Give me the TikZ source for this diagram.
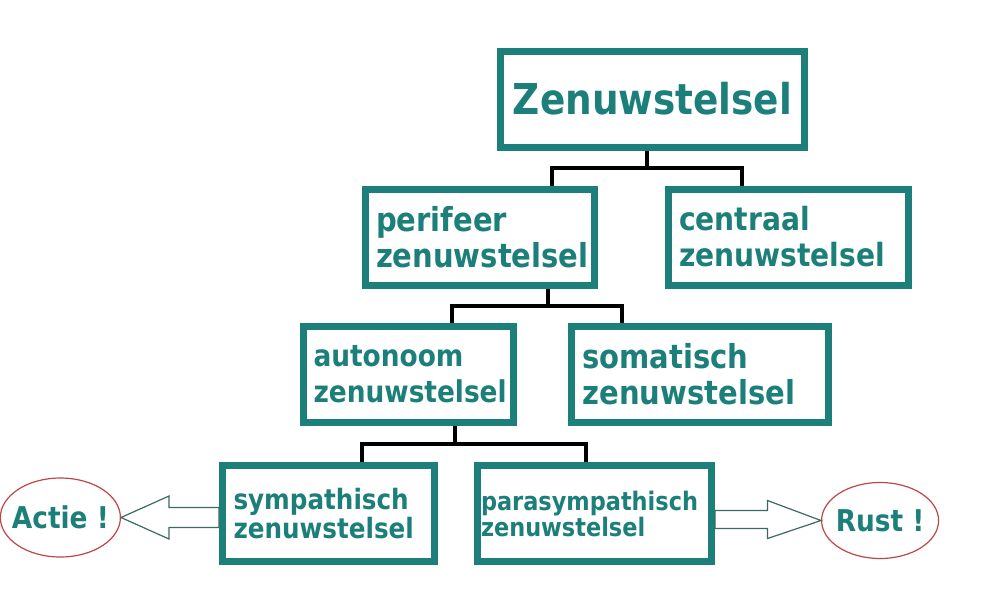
\documentclass[tikz,border=0pt]{standalone}
\usepackage{fontspec}
\setmainfont{DejaVu Sans}[FakeStretch=0.88]
\usetikzlibrary{positioning, shapes.geometric}

\definecolor{nervteal}{RGB}{28,127,122}
\definecolor{moodred}{RGB}{190,70,70}
\definecolor{arrowgrey}{RGB}{60,105,100}

\begin{document}
\begin{tikzpicture}[x=1pt, y=-1pt,
	sysbox/.style={draw=nervteal, line width=7pt, fill=white, text=nervteal,
		align=left, inner xsep=11pt, minimum height=96pt},
	link/.style={line width=4pt, black},
	mood/.style={ellipse, draw=moodred, line width=1.2pt, text=nervteal, inner xsep=-6pt, inner ysep=0pt,
		font=\bfseries\fontsize{30}{34}\selectfont},
	hollow/.style={draw=arrowgrey, line width=1.2pt, fill=white, line join=miter}]
	\useasboundingbox (0,0) rectangle (984,590);

	\node[sysbox, minimum width=304pt, align=center, font=\bfseries\fontsize{42.5}{44}\selectfont] (zen) at (652.5,99) {Zenuwstelsel};
	\node[sysbox, below left=35pt and 55pt of zen.south, text width=207pt, font=\bfseries\fontsize{33}{36}\selectfont] (peri) {perifeer\\zenuwstelsel};
	\node[sysbox, below right=35pt and 12pt of zen.south, text width=218pt, font=\bfseries\fontsize{32}{36}\selectfont] (cent) {centraal\\zenuwstelsel};
	\node[sysbox, below left=34pt and -37.5pt of peri.south, text width=190pt, inner xsep=10pt, font=\bfseries\fontsize{30}{36}\selectfont] (auto) {autonoom\\zenuwstelsel};
	\node[sysbox, below right=34pt and 88.5pt of peri.south, text width=235pt, font=\bfseries\fontsize{33}{36}\selectfont] (soma) {somatisch\\zenuwstelsel};
	\node[sysbox, below left=36.5pt and -29.5pt of auto.south, text width=190pt, font=\bfseries\fontsize{28}{29}\selectfont] (symp) {sympathisch\\zenuwstelsel};
	\node[sysbox, below right=36.5pt and 65.5pt of auto.south, text width=227pt, inner xsep=3.5pt, font=\bfseries\fontsize{25.5}{26}\selectfont] (para) {parasympathisch\\zenuwstelsel};

	\node[mood, left=98pt of symp, yshift=-4pt, minimum width=114pt, minimum height=79pt] (actie) {Actie !};
	\node[mood, right=106pt of para, yshift=-7pt, minimum width=117pt, minimum height=76pt] (rust) {Rust !};

	% tree
	\draw[link] ([xshift=-6pt]zen.south) -- ++(0,17) coordinate (j1) -| ([xshift=72pt]peri.north)
		(j1) -| ([xshift=-46pt]cent.north);
	\draw[link] ([xshift=68.5pt]peri.south) -- ++(0,17) coordinate (j2) -| ([xshift=43.5pt]auto.north)
		(j2) -| ([xshift=-78.5pt]soma.north);
	\draw[link] ([xshift=46.5pt]auto.south) -- ++(0,18.5) coordinate (j3) -| ([xshift=33.5pt]symp.north)
		(j3) -| ([xshift=-8.5pt]para.north);

	% block arrows
	\draw[hollow] (actie.east) -- ++(48,-21.5) -- ++(0,11.5) coordinate (a1) -- (a1 -| symp.west)
		-- ++(0,20) coordinate (a2) -- (a2 -| a1) -- ++(0,11.5) -- cycle;
	\draw[hollow] (rust.west) -- ++(-53.5,-20) -- ++(0,10) coordinate (b1) -- (b1 -| para.east)
		-- ++(0,18) coordinate (b2) -- (b2 -| b1) -- ++(0,10) -- cycle;
\end{tikzpicture}
\end{document}
